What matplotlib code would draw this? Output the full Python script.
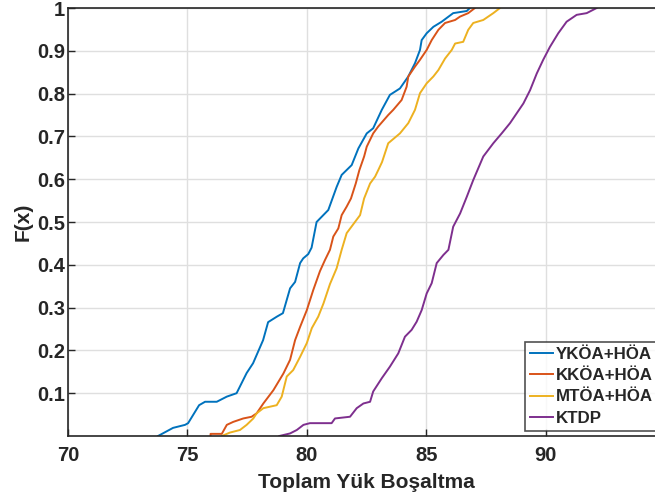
import matplotlib
matplotlib.use("Agg")
import matplotlib.pyplot as plt

# ---- data ----
labels = ["YKÖA+HÖA", "KKÖA+HÖA", "MTÖA+HÖA", "KTDP"]

ykoa_x = [73.77, 74.40, 74.90, 75.03, 75.49, 75.74, 76.23, 76.65, 77.06, 77.48, 77.75,
          78.17, 78.38, 78.75, 79.00, 79.30, 79.51, 79.72, 79.85, 80.06, 80.20, 80.41,
          80.62, 80.90, 81.25, 81.46, 81.88, 82.16, 82.51, 82.78, 83.14, 83.48, 83.90,
          84.25, 84.53, 84.74, 84.81, 85.02, 85.30, 85.65, 86.13, 86.70, 86.83]
ykoa_f = [0, 0.019, 0.026, 0.03, 0.072, 0.08, 0.08, 0.092, 0.10, 0.147, 0.17,
          0.224, 0.266, 0.279, 0.287, 0.345, 0.36, 0.404, 0.415, 0.425, 0.44, 0.50,
          0.512, 0.528, 0.582, 0.61, 0.633, 0.672, 0.707, 0.719, 0.762, 0.797, 0.812,
          0.84, 0.871, 0.902, 0.925, 0.941, 0.956, 0.968, 0.988, 0.993, 1.0]

kkoa_x = [75.97, 75.97, 76.44, 76.65, 76.92, 77.34, 77.69, 77.90, 78.18, 78.60, 79.02,
          79.30, 79.51, 79.72, 80.00, 80.27, 80.55, 80.76, 80.97, 81.11, 81.32, 81.46,
          81.67, 81.85, 82.05, 82.20, 82.40, 82.51, 82.78, 82.99, 83.41, 83.62, 83.97,
          84.18, 84.25, 84.53, 84.74, 85.02, 85.23, 85.51, 85.79, 86.21, 86.42, 86.76, 87.04]
kkoa_f = [0, 0.005, 0.005, 0.026, 0.033, 0.041, 0.045, 0.053, 0.076, 0.107, 0.146,
          0.178, 0.224, 0.255, 0.294, 0.341, 0.385, 0.411, 0.435, 0.466, 0.485, 0.516,
          0.536, 0.555, 0.59, 0.621, 0.653, 0.676, 0.707, 0.723, 0.75, 0.762, 0.785,
          0.816, 0.84, 0.863, 0.879, 0.902, 0.925, 0.949, 0.965, 0.972, 0.98, 0.988, 1.0]

mtoa_x = [76.44, 76.78, 77.20, 77.48, 77.76, 77.90, 78.18, 78.74, 78.95, 79.16, 79.43,
          79.72, 80.00, 80.21, 80.48, 80.70, 80.97, 81.25, 81.46, 81.67, 81.95, 82.23,
          82.40, 82.65, 82.86, 82.99, 83.15, 83.41, 83.90, 84.25, 84.53, 84.74, 85.02,
          85.30, 85.51, 85.79, 86.07, 86.21, 86.55, 86.76, 86.97, 87.39, 87.81, 88.09]
mtoa_f = [0, 0.008, 0.014, 0.026, 0.041, 0.053, 0.065, 0.072, 0.092, 0.139, 0.154,
          0.185, 0.217, 0.252, 0.279, 0.31, 0.355, 0.392, 0.435, 0.474, 0.495, 0.516,
          0.555, 0.59, 0.606, 0.621, 0.64, 0.684, 0.707, 0.731, 0.762, 0.801, 0.824,
          0.84, 0.855, 0.882, 0.902, 0.917, 0.921, 0.949, 0.965, 0.972, 0.988, 1.0]

ktdp_x = [78.85, 79.30, 79.58, 79.86, 80.13, 81.04, 81.18, 81.81, 82.09, 82.37, 82.65,
          82.78, 83.14, 83.48, 83.83, 84.11, 84.39, 84.60, 84.81, 85.02, 85.23, 85.44,
          85.72, 85.93, 86.13, 86.42, 86.70, 86.97, 87.39, 87.81, 88.16, 88.51, 88.79,
          89.07, 89.35, 89.63, 89.90, 90.18, 90.53, 90.88, 91.30, 91.72, 92.14]
ktdp_f = [0, 0.006, 0.014, 0.026, 0.03, 0.03, 0.041, 0.045, 0.065, 0.076, 0.08,
          0.104, 0.135, 0.162, 0.193, 0.232, 0.248, 0.267, 0.294, 0.333, 0.357, 0.404,
          0.423, 0.435, 0.489, 0.52, 0.559, 0.598, 0.653, 0.684, 0.707, 0.731, 0.754,
          0.777, 0.808, 0.847, 0.879, 0.909, 0.941, 0.968, 0.984, 0.988, 1.0]

x_ticks = [70, 75, 80, 85, 90]
y_ticks = [0.1, 0.2, 0.3, 0.4, 0.5, 0.6, 0.7, 0.8, 0.9, 1.0]
y_ticklabels = ["0.1", "0.2", "0.3", "0.4", "0.5", "0.6", "0.7", "0.8", "0.9", "1"]

colors = ["#0072BD", "#D95319", "#EDB120", "#7E2F8E"]
series = [(ykoa_x, ykoa_f), (kkoa_x, kkoa_f), (mtoa_x, mtoa_f), (ktdp_x, ktdp_f)]

txt = "#262626"
plt.rcParams['font.family'] = ['Liberation Sans', 'DejaVu Sans']
plt.rcParams['font.weight'] = 'bold'

W, H = 655, 500
fig = plt.figure(figsize=(W / 100, H / 100), dpi=100)
ax = fig.add_axes([68 / W, (H - 436) / H, (665 - 68) / W, (436 - 8) / H])

for (xs, fs), c, lab in zip(series, colors, labels):
    ax.plot(xs, fs, color=c, lw=1.4, label=lab)

ax.set_xlim(70, 95)
ax.set_ylim(0, 1)
ax.set_xticks(x_ticks)
ax.set_yticks(y_ticks)
ax.set_yticklabels(y_ticklabels)
ax.grid(True, color="#dfdfdf", lw=1.0)
ax.set_axisbelow(True)
ax.tick_params(direction="in", length=5, width=1, colors=txt, labelsize=14.5,
               top=False, right=False)
for lbl in ax.get_xticklabels() + ax.get_yticklabels():
    lbl.set_fontweight('bold')
for s in ax.spines.values():
    s.set_color(txt)
    s.set_linewidth(1.2)
ax.tick_params(axis='x', pad=7)
ax.tick_params(axis='y', pad=2)

ax.set_xlabel("Toplam Yük Boşaltma", fontsize=15, fontweight='bold', color=txt, labelpad=6)
ax.set_ylabel("F(x)", fontsize=15, fontweight='bold', color=txt, labelpad=3)

leg = fig.legend(loc='lower left', bbox_to_anchor=(525 / W, (H - 431) / H),
                 bbox_transform=fig.transFigure, fontsize=12.2, frameon=True,
                 fancybox=False, handlelength=1.35, handletextpad=0.15,
                 labelspacing=0.38, borderpad=0.3, borderaxespad=0)
leg.get_frame().set_edgecolor(txt)
leg.get_frame().set_linewidth(1.2)
for t in leg.get_texts():
    t.set_color(txt)
    t.set_fontweight('bold')

fig.savefig("out.png", dpi=100)
